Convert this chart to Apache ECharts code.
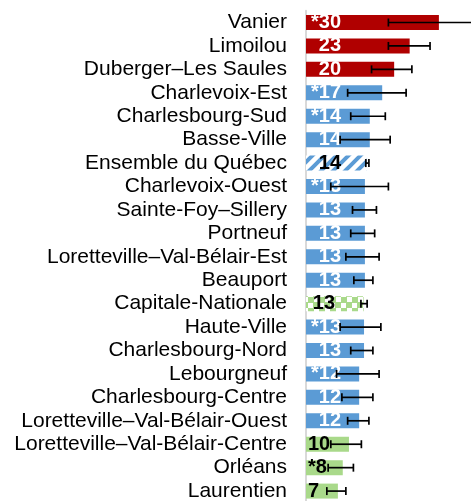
<!DOCTYPE html>
<html>
<head>
<meta charset="utf-8">
<script src="https://cdn.jsdelivr.net/npm/echarts@6/dist/echarts.min.js"></script>
<style>html,body{margin:0;padding:0;background:#fff}#c{width:471px;height:501px}</style>
</head>
<body>
<div id="c"></div>
<script>
const categories = ["Vanier","Limoilou","Duberger–Les Saules","Charlevoix-Est","Charlesbourg-Sud","Basse-Ville","Ensemble du Québec","Charlevoix-Ouest","Sainte-Foy–Sillery","Portneuf","Loretteville–Val-Bélair-Est","Beauport","Capitale-Nationale","Haute-Ville","Charlesbourg-Nord","Lebourgneuf","Charlesbourg-Centre","Loretteville–Val-Bélair-Ouest","Loretteville–Val-Bélair-Centre","Orléans","Laurentien"];
const values = [30.0,23.4,19.9,17.2,14.4,14.4,13.7,13.3,13.3,13.3,13.3,13.3,13.0,13.1,13.1,12.0,12.0,12.0,9.7,8.3,7.2];
const lower = [18.6,18.6,14.8,9.4,10.1,7.7,13.5,5.6,10.5,10.1,9.0,10.8,12.4,7.7,10.1,6.9,8.1,9.4,5.6,5.0,4.7];
const upper = [37.5,28.0,23.9,22.6,17.9,19.0,14.2,18.6,15.9,15.5,16.5,15.1,13.8,16.9,15.1,16.5,15.1,14.2,12.5,10.7,9.0];
const valueLabels = ["*30","23","20","*17","*14","14","14","*13","13","13","13","13","13","*13","13","*12","12","12","10","*8","7"];
const groups = ["red","red","red","blue","blue","blue","quebec","blue","blue","blue","blue","blue","capnat","blue","blue","blue","blue","blue","green","green","green"];

function stripePattern(){
  const s=12;
  const c=document.createElement('canvas');c.width=s;c.height=s;
  const x=c.getContext('2d');x.fillStyle='#fff';x.fillRect(0,0,s,s);
  x.strokeStyle='#5b9bd5';x.lineWidth=4;x.beginPath();
  x.moveTo(-s/2,s/2);x.lineTo(s/2,-s/2);x.moveTo(0,s);x.lineTo(s,0);x.moveTo(s/2,s*1.5);x.lineTo(s*1.5,s/2);x.stroke();
  return {image:c,repeat:'repeat'};
}
function checkPattern(){
  const c=document.createElement('canvas');c.width=11;c.height=11;
  const x=c.getContext('2d');x.fillStyle='#fff';x.fillRect(0,0,11,11);
  x.fillStyle='#a9d98a';x.fillRect(0,0,6,6);x.fillRect(5,5,6,6);
  return {image:c,repeat:'repeat'};
}
const colorOf = {red:'#b00000',blue:'#5b9bd5',green:'#a9d98a',quebec:stripePattern(),capnat:checkPattern()};
const font = '"Liberation Sans", Arial, sans-serif';

const barData = values.map((v,i)=>{
  const g=groups[i];
  const dark = (g==='green'||g==='quebec'||g==='capnat');
  let label;
  if(g==='green'){
    label={position:[2,'50%'],align:'left',color:'#000'};
  } else if(g==='capnat'){
    label={position:[29,'50%'],align:'right',color:'#000'};
  } else {
    label={position:[35,'50%'],align:'right',color:dark?'#000':'#fff'};
  }
  return {value:v,itemStyle:{color:colorOf[g]},label:label};
});
const errData = values.map((v,i)=>[i,lower[i],upper[i]]);

const chart = echarts.init(document.getElementById('c'),null,{renderer:'canvas'});
chart.setOption({
  animation:false,
  grid:{left:306,top:10.8,width:177.2,height:492,outerBoundsMode:'none',containLabel:false},
  xAxis:{type:'value',min:0,max:40,show:false},
  yAxis:{type:'category',data:categories,inverse:true,
    axisLine:{show:true,lineStyle:{color:'#d9d9d9',width:2}},
    axisTick:{show:false},
    axisLabel:{interval:0,fontSize:21,color:'#000',fontFamily:font,margin:19}
  },
  series:[
    {type:'bar',data:barData,barCategoryGap:'36%',
      label:{show:true,verticalAlign:'middle',fontSize:20,fontWeight:'bold',fontFamily:font,
        formatter:p=>valueLabels[p.dataIndex]}},
    {type:'custom',z:10,data:errData,encode:{x:[1,2],y:0},
      renderItem:function(params,api){
        const y=api.value(0);
        const p1=api.coord([api.value(1),y]);
        const p2=api.coord([api.value(2),y]);
        const h=4;
        const st={stroke:'#000',lineWidth:1.7};
        return {type:'group',children:[
          {type:'line',shape:{x1:p1[0],y1:p1[1],x2:p2[0],y2:p2[1]},style:st},
          {type:'line',shape:{x1:p1[0],y1:p1[1]-h,x2:p1[0],y2:p1[1]+h},style:st},
          {type:'line',shape:{x1:p2[0],y1:p2[1]-h,x2:p2[0],y2:p2[1]+h},style:st}
        ]};
      }}
  ]
});
</script>
</body>
</html>
